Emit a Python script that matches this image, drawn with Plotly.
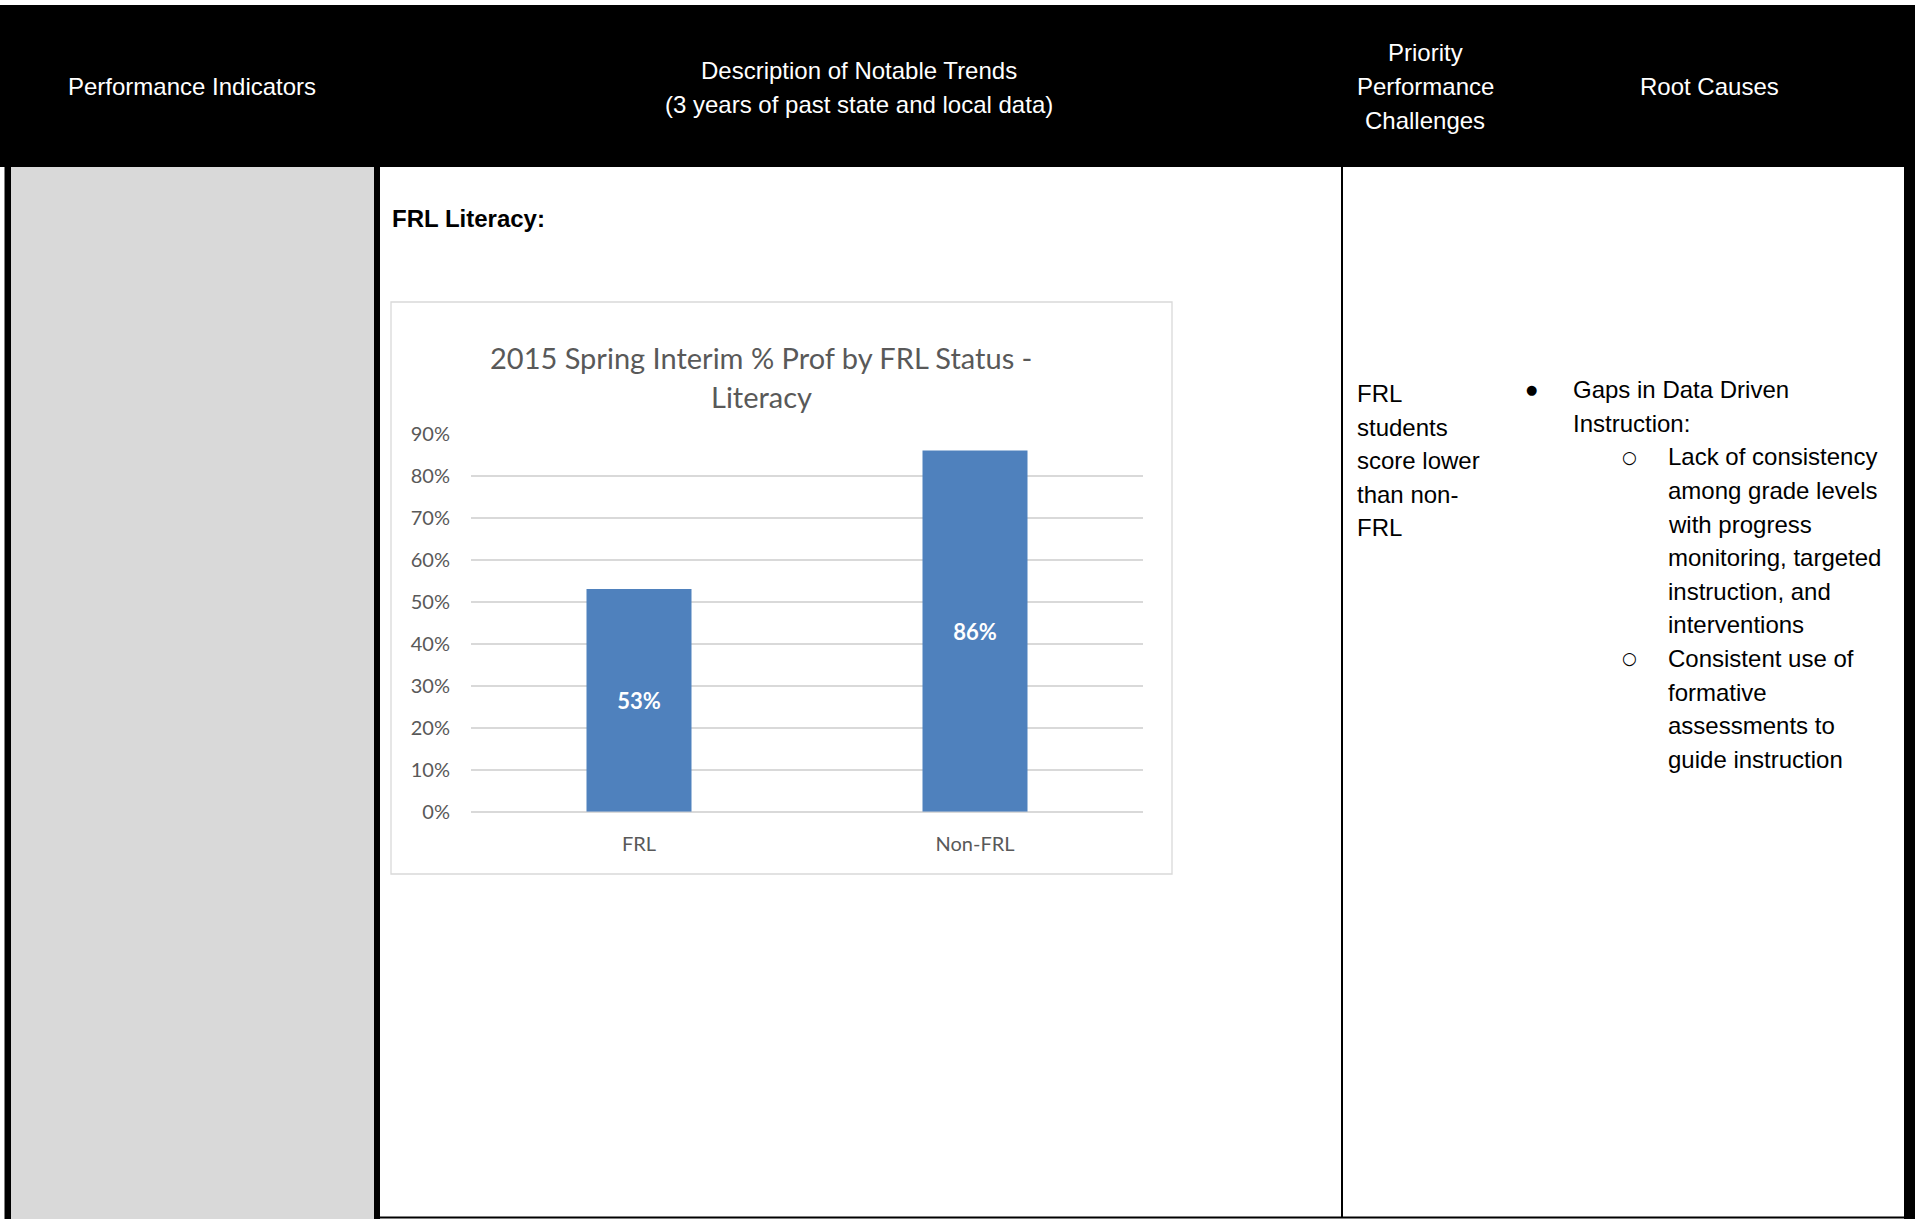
import plotly.graph_objects as go

# ---- data ----
categories = ["FRL", "Non-FRL"]
prof_rates = [0.53, 0.86]
y_ticks = [0.0, 0.1, 0.2, 0.3, 0.4, 0.5, 0.6, 0.7, 0.8, 0.9]

chart_title = ["2015 Spring Interim % Prof by FRL Status -", "Literacy"]
section_label = "FRL Literacy:"

header_cols = [
    ["Performance Indicators"],
    ["Description of Notable Trends", "(3 years of past state and local data)"],
    ["Priority", "Performance", "Challenges"],
    ["Root Causes"],
]
challenge_lines = ["FRL", "students", "score lower", "than non-", "FRL"]
cause_main = ["Gaps in Data Driven", "Instruction:"]
cause_sub = [
    ["Lack of consistency", "among grade levels", "with progress",
     "monitoring, targeted", "instruction, and", "interventions"],
    ["Consistent use of", "formative", "assessments to", "guide instruction"],
]

# ---- page geometry (pixels) ----
W, H = 1915, 1219


def px(x):
    return x / W


def py(y):
    return 1 - y / H


HEAD_FONT = "Liberation Sans, Arial, sans-serif"
CHART_FONT = "Lato, sans-serif"
GRID = "#d9d9d9"
AXIS_TXT = "#595959"

fig = go.Figure()

fig.add_trace(go.Bar(
    x=categories,
    y=prof_rates,
    marker=dict(color="#4f81bd", line=dict(width=0)),
    texttemplate="<b>%{y:.0%}</b>",
    textposition="inside",
    insidetextanchor="middle",
    textangle=0,
    textfont=dict(family=CHART_FONT, size=22, color="white"),
    hoverinfo="skip",
    showlegend=False,
))

shapes = []


def rect(x0, y0, x1, y1, fill, line_color=None, line_width=0):
    shapes.append(dict(
        type="rect", xref="paper", yref="paper", layer="below",
        x0=px(x0), x1=px(x1), y0=py(y1), y1=py(y0),
        fillcolor=fill,
        line=dict(color=line_color or fill, width=line_width),
    ))


# table header and cell borders
rect(0, 5, W, 167, "black")
rect(4.5, 167, 11, H, "black")
rect(11, 167, 374, H, "#d9d9d9")
rect(374, 167, 380, H, "black")
rect(1341, 167, 1343, 1218, "black")
rect(1904, 167, W, H, "black")
rect(380, 1216.5, 1904, 1218.5, "black")

# chart frame
rect(391, 302, 1172, 874, "white", GRID, 1.3)

annotations = []


def text(x, y, s, size=24, color="black", anchor="left", family=HEAD_FONT):
    annotations.append(dict(
        x=px(x), y=py(y), xref="paper", yref="paper", text=s,
        showarrow=False, xanchor=anchor, yanchor="middle",
        font=dict(family=family, size=size, color=color),
    ))


# header labels
head_centers = [192, 859, 1425, 1709]
head_rows = {1: [86], 2: [70, 104], 3: [53, 86.5, 120]}
for cx, lines in zip(head_centers, header_cols):
    for yy, s in zip(head_rows[len(lines)], lines):
        text(cx, yy, s, color="white", anchor="center")

# section label
text(389.5, 219, "<b>" + section_label + "</b>")

# chart title
for yy, s in zip([357, 396], chart_title):
    text(761, yy, s, size=29, color=AXIS_TXT, anchor="center", family=CHART_FONT)

# priority challenge column
STEP = 33.6
for i, s in enumerate(challenge_lines):
    text(1355, 393.5 + i * STEP, s)

# root causes column
row = 0
y0 = 389.6
text(1531.5, y0, "●", size=13, anchor="center", family="DejaVu Sans")
for s in cause_main:
    text(1571, y0 + row * STEP, s)
    row += 1
for group in cause_sub:
    text(1629, y0 + row * STEP, "○", size=17, anchor="center", family="DejaVu Sans")
    for s in group:
        text(1665.5, y0 + row * STEP, s)
        row += 1

zero_px, top_px = 811.7, 433.7

fig.update_layout(
    width=W, height=H, autosize=False,
    margin=dict(l=0, r=0, t=0, b=0, pad=0, autoexpand=False),
    paper_bgcolor="white",
    plot_bgcolor="rgba(0,0,0,0)",
    bargap=0.6875,
    showlegend=False,
    shapes=shapes,
    annotations=annotations,
    xaxis=dict(
        domain=[px(471), px(1143)],
        automargin=False,
        showgrid=False, showline=False, zeroline=False,
        ticks="", ticklabelstandoff=18,
        tickfont=dict(family=CHART_FONT, size=20, color=AXIS_TXT),
        fixedrange=True,
    ),
    yaxis=dict(
        domain=[py(zero_px), py(top_px)],
        automargin=False,
        range=[0, 0.9],
        tickvals=y_ticks,
        tickformat=".0%",
        showgrid=True, gridcolor=GRID, gridwidth=1.6,
        zeroline=True, zerolinecolor=GRID, zerolinewidth=1.6,
        showline=False, ticks="", ticklabelstandoff=20,
        tickfont=dict(family=CHART_FONT, size=20, color=AXIS_TXT),
        fixedrange=True,
    ),
)

fig.write_html("out.html")
